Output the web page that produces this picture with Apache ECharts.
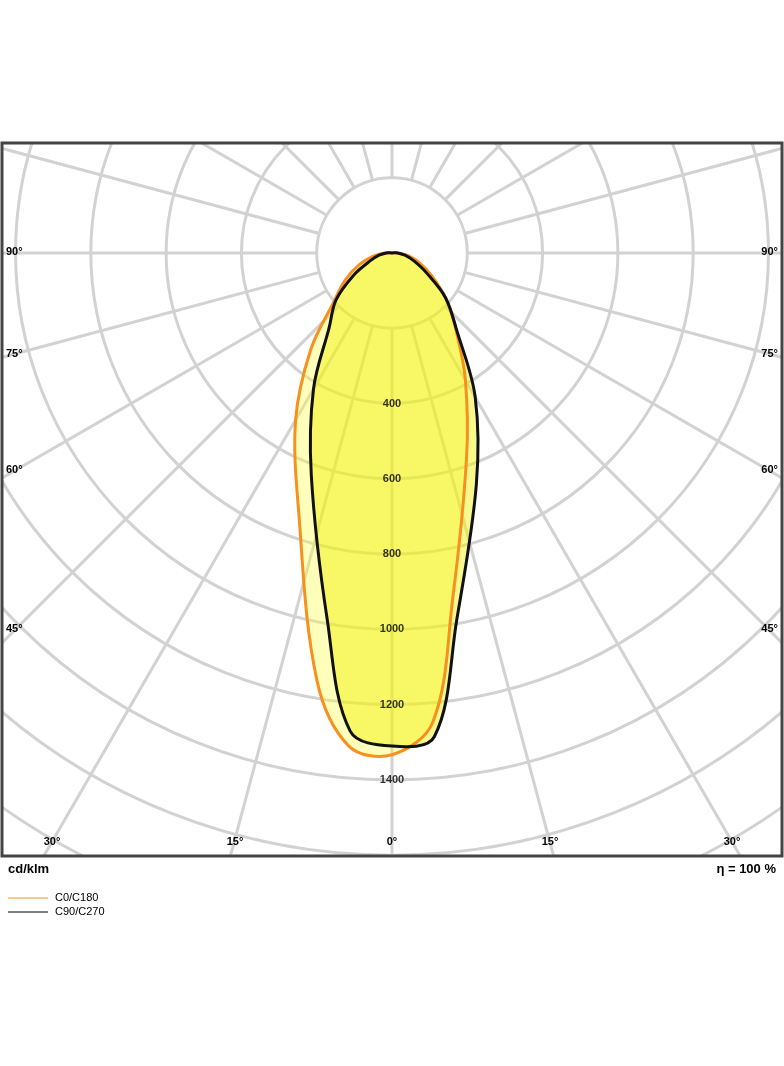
<!DOCTYPE html>
<html><head><meta charset="utf-8">
<script src="https://cdn.jsdelivr.net/npm/echarts@6/dist/echarts.min.js"></script>
<style>html,body{margin:0;padding:0;background:#fff}#c{width:784px;height:1066px}</style>
</head><body><div id="c"></div>
<script>
// gamma angles (deg from nadir) and intensities (cd/klm)
const angles = [0, 5, 10, 20, 30, 40, 50, 60, 70, 80, 90, 180];
const c0   = [1333, 1250, 930, 579, 390, 263, 186, 122, 78, 45, 15, 0];
const c180 = [1333, 1315, 1151, 726, 512, 336, 202, 143, 93, 50, 20, 0];
const c90  = [1310, 1275, 990, 627, 417, 260, 194, 117, 62, 35, 15, 0];
const c270 = [1310, 1290, 990, 655, 442, 267, 186, 106, 62, 35, 15, 0];
const radii = [200, 400, 600, 800, 1000, 1200, 1400, 1600, 1800, 2000, 2200, 2400, 2600];
const spokes = [0,15,30,45,60,75,90,105,120,135,150,165,180,195,210,225,240,255,270,285,300,315,330,345];
const rLabels = [400, 600, 800, 1000, 1200, 1400];

function toXY(g, I, side){ const a = g*Math.PI/180; return [side*I*Math.sin(a), -I*Math.cos(a)]; }
function poly(right, left){
  const pts = [];
  for (let i=1;i<angles.length;i++) pts.push(toXY(angles[i], right[i], 1));
  for (let i=angles.length-1;i>=0;i--) pts.push(toXY(angles[i], left[i], -1));
  return pts;
}
const orangePts = poly(c0, c180), blackPts = poly(c270, c90);

function polySeries(pts, style, z){
  return {type:'custom', coordinateSystem:'cartesian2d', z:z, clip:true, silent:true,
    data:[[0,0]],
    renderItem:(p, api)=>({type:'polygon', shape:{points:pts.map(q=>api.coord(q)), smooth:0.35}, style:style})};
}
const lbl = {font:'bold 11px Liberation Sans', fill:'#000'};
const chart = echarts.init(document.getElementById('c'));
chart.setOption({
  animation:false,
  grid:{left:2, right:2, top:143, bottom:210, show:true, borderColor:'#444', borderWidth:3, z:10},
  xAxis:{type:'value', min:-1036, max:1036, show:false},
  yAxis:{type:'value', min:-1602, max:292, show:false},
  series:[
    {type:'custom', clip:true, silent:true, z:1, data:radii.map(r=>[r,0]),
      renderItem:(p, api)=>{const c=api.coord([0,0]); const r=api.size([api.value(0),0])[0];
        return {type:'circle', shape:{cx:c[0], cy:c[1], r:r}, style:{fill:'none', stroke:'#d2d2d2', lineWidth:3}};}},
    {type:'custom', clip:true, silent:true, z:1, data:spokes.map(a=>[a,0]),
      renderItem:(p, api)=>{const a=api.value(0); const p1=api.coord(toXY(a,200,1)); const p2=api.coord(toXY(a,4000,1));
        return {type:'line', shape:{x1:p1[0], y1:p1[1], x2:p2[0], y2:p2[1]}, style:{stroke:'#d2d2d2', lineWidth:3}};}},
    polySeries(orangePts, {fill:'rgba(255,255,60,0.35)', stroke:'none'}, 2),
    polySeries(blackPts, {fill:'rgba(240,240,0,0.45)', stroke:'none'}, 3),
    polySeries(orangePts, {fill:'none', stroke:'#f7901e', lineWidth:3}, 4),
    polySeries(blackPts, {fill:'none', stroke:'#111', lineWidth:3}, 5),
    {type:'scatter', z:6, symbolSize:0, data:rLabels.map(r=>[0,-r]),
      label:{show:true, position:'inside', formatter:p=>String(-p.value[1]), fontFamily:'Liberation Sans', fontWeight:'bold', fontSize:11, color:'#000'}}
  ],
  graphic:[
    ...[['90°',253],['75°',355],['60°',471],['45°',630]].flatMap(([t,y])=>[
      {type:'text', z:100, left:6, top:y-7, style:lbl, style:{text:t, ...lbl}},
      {type:'text', z:100, right:6, top:y-7, style:{text:t, ...lbl}}]),
    ...[['30°',52],['15°',235],['0°',392],['15°',550],['30°',732]].map(([t,x])=>
      ({type:'text', z:100, x:x, y:842, style:{text:t, ...lbl, align:'center', verticalAlign:'middle'}})),
    {type:'text', left:8, top:863, style:{text:'cd/klm', font:'bold 13px Liberation Sans', fill:'#000'}},
    {type:'text', right:8, top:863, style:{text:'η = 100 %', font:'bold 13px Liberation Sans', fill:'#000'}},
    {type:'line', shape:{x1:8, y1:898, x2:48, y2:898}, style:{stroke:'#f7901e', lineWidth:1}},
    {type:'text', left:55, top:892, style:{text:'C0/C180', font:'11px Liberation Sans', fill:'#000'}},
    {type:'line', shape:{x1:8, y1:912, x2:48, y2:912}, style:{stroke:'#000', lineWidth:1}},
    {type:'text', left:55, top:906, style:{text:'C90/C270', font:'11px Liberation Sans', fill:'#000'}}
  ]
});
</script></body></html>
